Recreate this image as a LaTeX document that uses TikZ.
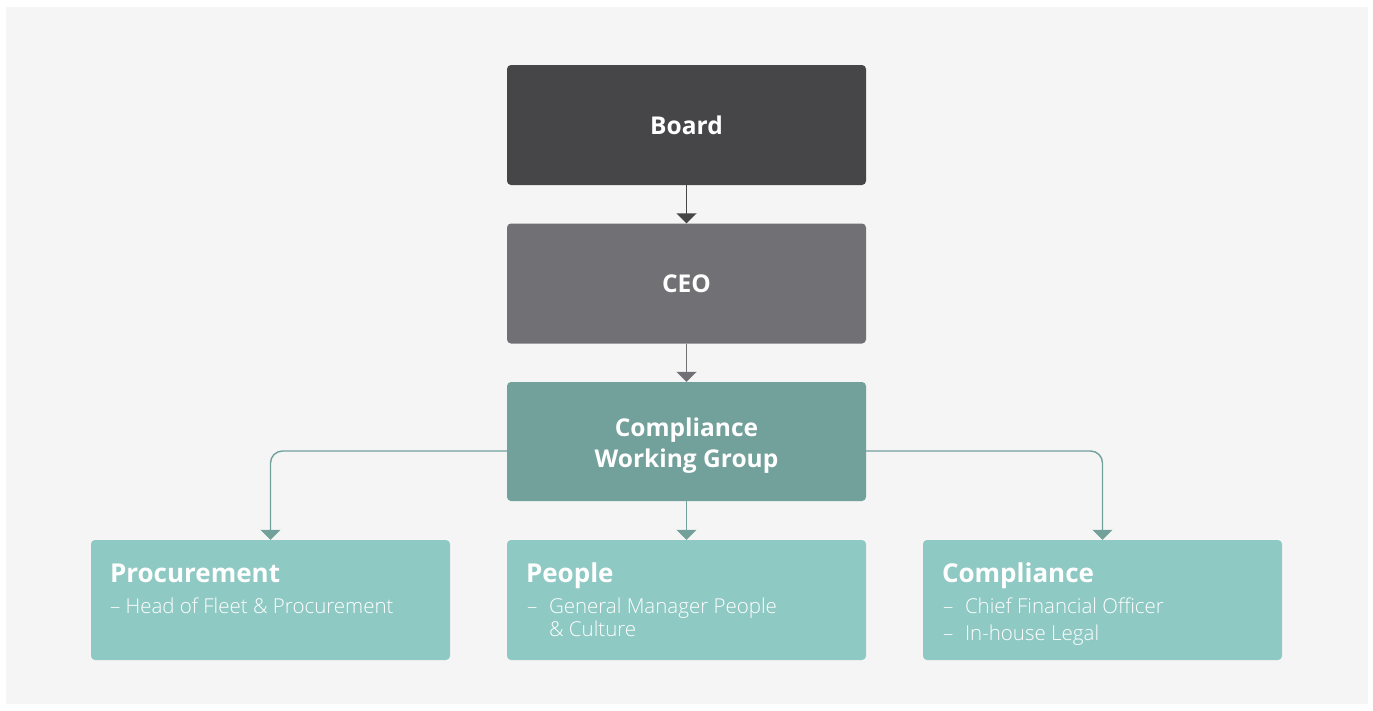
\documentclass[tikz,border=0pt]{standalone}
\usepackage{fontspec}
\setmainfont{Open Sans}
\newfontfamily\lightfont{Open Sans Light}
\usetikzlibrary{arrows.meta,positioning}
\definecolor{panel}{HTML}{F5F5F5}
\definecolor{boardc}{HTML}{464648}
\definecolor{ceoc}{HTML}{717075}
\definecolor{cwgc}{HTML}{72A09B}
\definecolor{teamc}{HTML}{8FC9C3}
\tikzset{
  box/.style={rounded corners=4pt, minimum width=359pt, minimum height=120pt, inner sep=0pt, text=white, align=center},
  bigtext/.style={font=\bfseries\fontsize{24.5}{31.5}\selectfont},
  ttl/.style={anchor=base west, inner sep=0pt, text=white, font=\bfseries\fontsize{26}{30}\selectfont},
  sub/.style={anchor=base west, inner sep=0pt, text=white, font=\lightfont\fontsize{20.5}{24}\selectfont},
  conn/.style={line width=1.4pt, -{Triangle[width=20pt,length=10pt]}},
}
\begin{document}
\begin{tikzpicture}[x=1pt,y=-1pt]
\useasboundingbox (0,0) rectangle (1373,710);
\fill[white] (0,0) rectangle (1373,710);
\fill[panel] (6,7) rectangle (1368,704);

\node[box, fill=boardc, bigtext] (board) at (686.5,125) {Board};
\node[box, fill=ceoc, bigtext] (ceo) at (686.5,283.5) {CEO};
\node[box, fill=cwgc, minimum height=119pt] (cwg) at (686.5,441.5) {};
\node[bigtext, text=white, align=center, inner sep=0pt, yshift=-4pt] (cwgT) at (cwg.center) {Compliance\\Working Group};
\node[box, fill=teamc] (proc) at (270.5,600) {};
\node[box, fill=teamc] (peop) at (686.5,600) {};
\node[box, fill=teamc] (comp) at (1102.5,600) {};

\draw[conn, draw=boardc, line width=1.8pt] (board.south) -- (ceo.north);
\draw[conn, draw=ceoc, line width=1.8pt] (ceo.south) -- (cwg.north);
\draw[conn, draw=cwgc] (cwg.south) -- (peop.north);
\draw[conn, draw=cwgc, rounded corners=12pt] ([yshift=-9.5pt]cwg.west) -| (proc.north);
\draw[conn, draw=cwgc, rounded corners=12pt] ([yshift=-9.5pt]cwg.east) -| (comp.north);

% Procurement
\node[ttl] (procT) at ([xshift=19pt,yshift=-42.5pt]proc.north west) {Procurement};
\node[sub] (procD) at ([xshift=19pt,yshift=-73.5pt]proc.north west) {– Head of Fleet \& Procurement};
% People
\node[ttl] (peopT) at ([xshift=19pt,yshift=-42.5pt]peop.north west) {People};
\node[sub] (peopD1) at ([xshift=20pt,yshift=-73.5pt]peop.north west) {–};
\node[sub] (peopD2) at ([xshift=42pt,yshift=-73.5pt]peop.north west) {General Manager People};
\node[sub] (peopD3) at ([xshift=42pt,yshift=-97pt]peop.north west) {\& Culture};
% Compliance
\node[ttl] (compT) at ([xshift=19pt,yshift=-42.5pt]comp.north west) {Compliance};
\node[sub] (compD1) at ([xshift=20pt,yshift=-73.5pt]comp.north west) {–};
\node[sub] (compD2) at ([xshift=42pt,yshift=-73.5pt]comp.north west) {Chief Financial Officer};
\node[sub] (compD3) at ([xshift=20pt,yshift=-100.5pt]comp.north west) {–};
\node[sub] (compD4) at ([xshift=42pt,yshift=-100.5pt]comp.north west) {In-house Legal};
\end{tikzpicture}
\end{document}
